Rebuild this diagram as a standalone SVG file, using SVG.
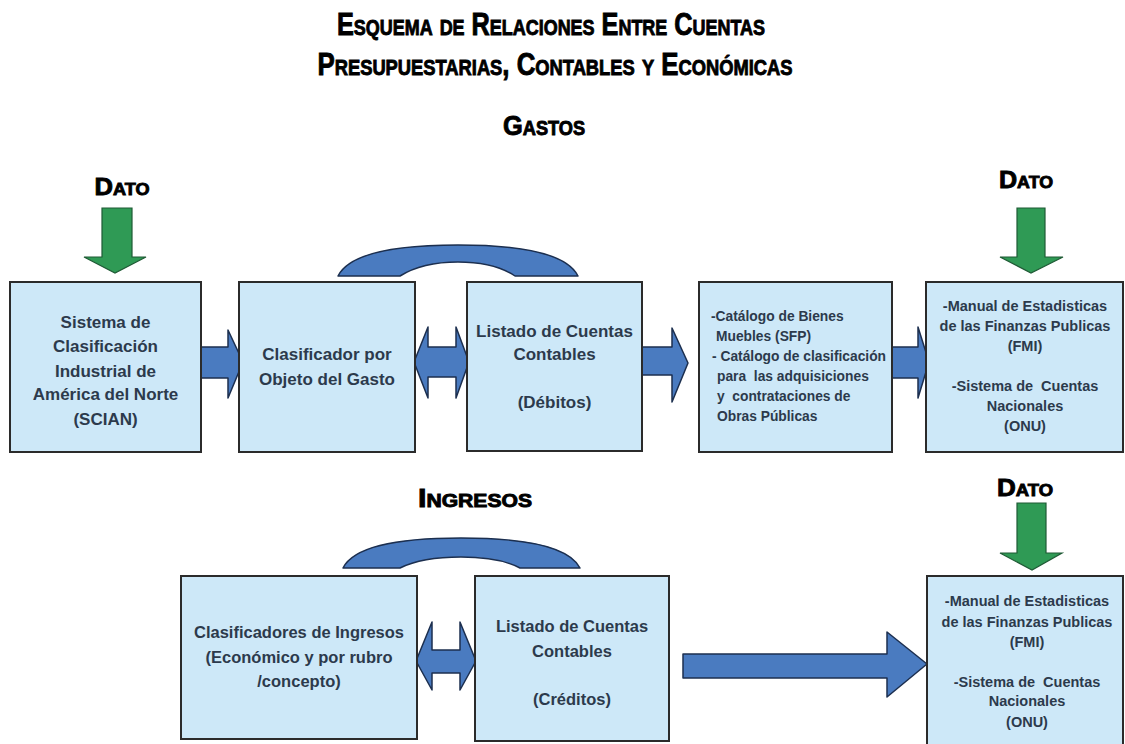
<svg xmlns="http://www.w3.org/2000/svg" width="1125" height="744" viewBox="0 0 1125 744">
<style>
.ttl{font-family:"Liberation Sans",Arial,sans-serif;font-weight:bold;font-variant:small-caps;fill:#000;stroke:#000;stroke-width:0.9;text-anchor:middle}
.box{fill:#cde8f8;stroke:#2b2b2b;stroke-width:2}
.bt{font-family:"Liberation Sans",Arial,sans-serif;font-weight:bold;fill:#2c3a4c;text-anchor:middle;font-size:17px}
.bl{font-family:"Liberation Sans",Arial,sans-serif;font-weight:bold;fill:#2c3a4c;text-anchor:middle;font-size:16.5px}
.st{font-family:"Liberation Sans",Arial,sans-serif;font-weight:bold;fill:#2c3a4c;font-size:13.8px}
.sc{font-family:"Liberation Sans",Arial,sans-serif;font-weight:bold;fill:#2c3a4c;font-size:14.5px;text-anchor:middle}
.blue{fill:#4a7bc0;stroke:#1c2f4f;stroke-width:1.5;stroke-linejoin:round}
.green{fill:#2f9a55;stroke:#1f5a35;stroke-width:1.2}
</style>
<rect width="1125" height="744" fill="#fff"/>
<g id="titles">
<text class="ttl" x="551" y="35" font-size="31" textLength="428" lengthAdjust="spacingAndGlyphs">Esquema de Relaciones Entre Cuentas</text>
<text class="ttl" x="555" y="75" font-size="31" textLength="475" lengthAdjust="spacingAndGlyphs">Presupuestarias, Contables y Económicas</text>
<text class="ttl" x="544" y="135" font-size="28" textLength="82" lengthAdjust="spacingAndGlyphs">Gastos</text>
<text class="ttl" x="475" y="507" font-size="26" textLength="114" lengthAdjust="spacingAndGlyphs">Ingresos</text>
<text class="ttl" x="122" y="195" font-size="24" textLength="55" lengthAdjust="spacingAndGlyphs">Dato</text>
<text class="ttl" x="1026" y="188" font-size="24" textLength="54" lengthAdjust="spacingAndGlyphs">Dato</text>
<text class="ttl" x="1025" y="496" font-size="24" textLength="56" lengthAdjust="spacingAndGlyphs">Dato</text>
</g>
<g id="connectors">
<path class="green" d="M102,208 H132 V257 H146 L115,273 L84,257 H102 Z"/>
<path class="green" d="M1017,208 H1045 V257 H1063 L1031,273 L1000,257 H1017 Z"/>
<path class="green" d="M1017,503 H1046 V553 H1062 L1032,570 L1000,553 H1017 Z"/>
<path class="blue" d="M338,276 C350,252 400,245 458,245 C516,245 566,252 578,276 L515,276 C500,266 480,262 458,262 C436,262 416,266 400,276 Z"/>
<path class="blue" d="M343,568 C355,544 405,538 461,538 C517,538 568,544 580,568 L520,568 C505,560 484,557 461,557 C438,557 416,560 400,568 Z"/>
<path class="blue" d="M201,347 H228 V330 L243,362 L228,398 V378 H201 Z"/>
<path class="blue" d="M414,362 L428,327 V347 H456 V327 L469,362 L456,398 V377 H428 V398 Z"/>
<path class="blue" d="M642,347 H672 V328 L688,363 L672,402 V375 H642 Z"/>
<path class="blue" d="M892,347 H918 V327 L929,362 L918,398 V378 H892 Z"/>
<path class="blue" d="M416,661 L432,622 V650 H460 V622 L476,661 L460,690 V673 H432 V690 Z"/>
<path class="blue" d="M683,654 H887 V632 L927,664 L887,697 V678 H683 Z"/>
</g>
<g id="n1">
<rect class="box" x="10" y="282" width="191" height="170"/>
<text class="bt" x="105.5" y="328">Sistema de</text>
<text class="bt" x="105.5" y="352">Clasificación</text>
<text class="bt" x="105.5" y="377">Industrial de</text>
<text class="bt" x="105.5" y="400">América del Norte</text>
<text class="bt" x="105.5" y="425">(SCIAN)</text>
</g>
<g id="n2">
<rect class="box" x="239" y="282" width="176" height="170"/>
<text class="bt" x="327" y="360">Clasificador por</text>
<text class="bt" x="327" y="385">Objeto del Gasto</text>
</g>
<g id="n3">
<rect class="box" x="467" y="282" width="175" height="169"/>
<text class="bt" x="554.5" y="337">Listado de Cuentas</text>
<text class="bt" x="554.5" y="360">Contables</text>
<text class="bt" x="554.5" y="408">(Débitos)</text>
</g>
<g id="n4">
<rect class="box" x="699" y="282" width="193" height="170"/>
<text class="st" x="711" y="321">-Catálogo de Bienes</text>
<text class="st" x="716" y="341">Muebles (SFP)</text>
<text class="st" x="712" y="361">- Catálogo de clasificación</text>
<text class="st" x="717" y="381" xml:space="preserve">para  las adquisiciones</text>
<text class="st" x="717" y="401" xml:space="preserve">y  contrataciones de</text>
<text class="st" x="717" y="421">Obras Públicas</text>
</g>
<g id="n5">
<rect class="box" x="926" y="282" width="197" height="170"/>
<text class="sc" x="1025" y="311">-Manual de Estadisticas</text>
<text class="sc" x="1025" y="331">de las Finanzas Publicas</text>
<text class="sc" x="1025" y="351">(FMI)</text>
<text class="sc" x="1025" y="391" xml:space="preserve">-Sistema de  Cuentas</text>
<text class="sc" x="1025" y="411">Nacionales</text>
<text class="sc" x="1025" y="431">(ONU)</text>
</g>
<g id="n6">
<rect class="box" x="181" y="576" width="236" height="163"/>
<text class="bl" x="299" y="638">Clasificadores de Ingresos</text>
<text class="bl" x="299" y="663">(Económico y por rubro</text>
<text class="bl" x="299" y="687">/concepto)</text>
</g>
<g id="n7">
<rect class="box" x="475" y="576" width="194" height="165"/>
<text class="bl" x="572" y="632">Listado de Cuentas</text>
<text class="bl" x="572" y="657">Contables</text>
<text class="bl" x="572" y="705">(Créditos)</text>
</g>
<g id="n8">
<rect class="box" x="927" y="576" width="196" height="170"/>
<text class="sc" x="1027" y="606">-Manual de Estadisticas</text>
<text class="sc" x="1027" y="627">de las Finanzas Publicas</text>
<text class="sc" x="1027" y="647">(FMI)</text>
<text class="sc" x="1027" y="687" xml:space="preserve">-Sistema de  Cuentas</text>
<text class="sc" x="1027" y="706">Nacionales</text>
<text class="sc" x="1027" y="727">(ONU)</text>
</g>
</svg>
